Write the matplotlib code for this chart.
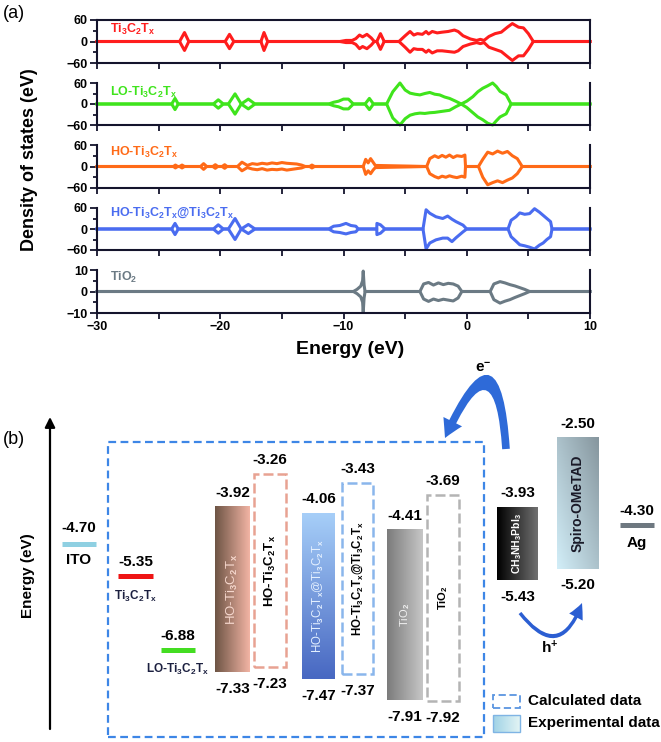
import numpy as np
import matplotlib.pyplot as plt
import matplotlib.colors as mcolors
from matplotlib.patches import Rectangle
from matplotlib.ticker import MultipleLocator

plt.rcParams['font.family'] = ['Liberation Sans', 'DejaVu Sans']
plt.rcParams['font.weight'] = 'bold'
plt.rcParams['mathtext.fontset'] = 'custom'
plt.rcParams['mathtext.rm'] = 'Liberation Sans'
plt.rcParams['mathtext.bf'] = 'Liberation Sans:bold'
plt.rcParams['mathtext.it'] = 'Liberation Sans:italic'

# ---------------- (a) density of states ----------------
# energy (eV), spin-up and spin-down amplitude
e_ti = [-30, -23.3, -22.9, -22.55, -19.6, -19.25, -18.9, -16.7, -16.45, -16.15,
        -10.3, -9.8, -9.3, -9.0, -8.7, -8.45, -8.1, -7.75, -7.5, -7.3, -7.0, -6.7,
        -5.5, -5.0, -4.6, -4.3, -4.0, -3.6, -3.3, -3.1, -2.8, -2.4, -2.0, -1.5, -1.0,
        -0.7, -0.3, 0.3, 0.8, 1.1, 1.4, 1.8, 2.3, 2.8, 3.3, 3.7, 4.2, 4.6, 5.0, 5.4, 10]
up_ti = [0, 0, 25, 0, 0, 20, 0, 0, 25, 0,
         0, 3, 3, 8, 18, 13, 20, 10, 0, 0, 22, 0,
         0, 16, 28, 18, 22, 20, 28, 21, 28, 24, 26, 28, 32,
         28, 16, 7, 3, 6, 3, 14, 22, 26, 40, 50, 40, 38, 22, 0, 0]
dn_ti = [0, 0, 25, 0, 0, 20, 0, 0, 25, 0,
         0, 3, 3, 8, 20, 14, 20, 10, 0, 0, 22, 0,
         0, 16, 30, 20, 22, 22, 30, 24, 32, 26, 26, 28, 30,
         26, 14, 7, 3, 6, 3, 16, 22, 28, 42, 53, 40, 40, 22, 0, 0]

e_lo = [-30, -23.94, -23.67, -23.41, -20.56, -20.16, -19.75, -19.34, -18.8, -18.3,
        -17.72, -17.18, -11.2, -10.8, -10.4, -10.0, -9.6, -9.2, -8.25, -7.9, -7.57,
        -6.5, -6.0, -5.42, -5.0, -4.6, -4.2, -3.8, -3.4, -3.0, -2.6, -2.2, -1.8, -1.4,
        -0.9, -0.45, 0.0, 0.5, 0.9, 1.3, 1.7, 2.1, 2.4, 2.7, 3.2, 3.6, 10]
up_lo = [0, 0, 16, 0, 0, 12, 0, 0, 29, 0,
         14, 0, 0, 5, 8, 14, 14, 0, 0, 16, 0,
         0, 35, 60, 40, 31, 28, 26, 30, 33, 28, 26, 20, 16,
         8, 0, 8, 21, 35, 45, 52, 60, 50, 36, 26, 0, 0]
dn_lo = [0, 0, 16, 0, 0, 12, 0, 0, 29, 0,
         14, 0, 0, 5, 8, 14, 14, 0, 0, 16, 0,
         0, 40, 60, 42, 32, 28, 26, 27, 25, 24, 22, 20, 18,
         8, 0, 10, 25, 37, 45, 55, 60, 48, 37, 28, 0, 0]

e_ho = [-30, -23.8, -23.64, -23.45, -23.3, -23.1, -22.9, -21.6, -21.35, -21.1,
        -20.6, -20.4, -20.2, -19.85, -19.64, -19.45, -18.6, -18.24, -17.8, -17.4,
        -17.0, -16.6, -16.2, -15.8, -15.4, -15.0, -14.6, -14.2, -13.8, -13.4, -13.1,
        -12.75, -12.56, -12.35, -8.4, -8.2, -8.0, -7.8, -7.6, -7.42, -6.0, -4.5,
        -3.25, -3.0, -2.6, -2.3, -2.0, -1.7, -1.4, -1.1, -0.8, -0.4, -0.15, -0.1,
        0.95, 1.3, 1.7, 2.1, 2.5, 2.9, 3.3, 3.7, 4.1, 4.5, 10]
up_ho = [0, 0, 4, 0, 0, 4, 0, 0, 8, 0,
         0, 5, 0, 0, 5, 0, 0, 12, 3, 8,
         6, 9, 7, 10, 8, 11, 9, 8, 7, 4, 0,
         0, 4, 0, 0, 20, 10, 22, 12, 3, 2, 1,
         0, 22, 30, 25, 31, 26, 32, 25, 30, 28, 32, 0,
         0, 20, 40, 35, 43, 37, 42, 30, 22, 0, 0]
dn_ho = [0, 0, 4, 0, 0, 4, 0, 0, 8, 0,
         0, 5, 0, 0, 5, 0, 0, 12, 3, 7,
         9, 6, 10, 8, 9, 7, 10, 8, 6, 4, 0,
         0, 4, 0, 0, 22, 12, 20, 10, 3, 2, 1,
         0, 20, 28, 32, 27, 30, 26, 29, 31, 27, 30, 0,
         0, 30, 51, 45, 40, 45, 38, 32, 20, 0, 0]

e_hoat = [-30, -23.94, -23.67, -23.41, -20.56, -20.16, -19.75, -19.34, -18.8, -18.3,
          -17.72, -17.18, -11.2, -10.8, -10.3, -9.8, -9.4, -9.0, -8.8, -7.3, -7.29,
          -7.0, -6.63, -3.55, -3.3, -3.0, -2.5, -1.95, -1.55, -1.2, -0.87, -0.3, 0.0,
          3.35, 3.6, 4.0, 4.3, 4.7, 5.1, 5.5, 5.9, 6.2, 6.5, 6.8, 6.92, 10]
up_hoat = [0, 0, 16, 0, 0, 12, 0, 0, 30, 0,
           13, 0, 0, 8, 10, 16, 10, 8, 0, 0, 16,
           12, 0, 0, 55, 45, 35, 30, 37, 28, 21, 11, 0,
           0, 25, 35, 46, 42, 44, 58, 48, 39, 30, 21, 0, 0]
dn_hoat = [0, 0, 16, 0, 0, 12, 0, 0, 30, 0,
           13, 0, 0, 8, 10, 14, 10, 8, 0, 0, 16,
           12, 0, 0, 57, 40, 31, 26, 26, 36, 25, 8, 0,
           0, 22, 35, 45, 48, 52, 57, 46, 40, 30, 22, 0, 0]

e_tio2 = [-30, -9.2, -8.9, -8.6, -8.45, -8.4, -8.33, -8.25,
          -3.8, -3.5, -3.1, -2.7, -2.3, -1.9, -1.5, -1.1, -0.7, -0.4,
          1.9, 2.2, 2.7, 3.1, 3.5, 3.9, 4.3, 4.7, 5.1, 10]
up_tio2 = [0, 0, 1, 2.5, 5, 9.5, 3, 0,
           0, 3.5, 4.2, 3.0, 4.0, 3.2, 3.8, 3.5, 2.5, 0,
           0, 3.5, 4.6, 4.0, 3.2, 2.6, 1.8, 1.0, 0, 0]
dn_tio2 = [0, 0, 1, 2.5, 5, 9.7, 3, 0,
           0, 3.5, 4.6, 3.5, 4.2, 3.6, 4.0, 4.4, 3.0, 0,
           0, 3.8, 5.4, 4.5, 3.8, 2.8, 1.9, 1.0, 0, 0]

# ---------------- (b) energy levels (eV) ----------------
level_values = [-4.70, -5.35, -6.88, -4.30]          # ITO, Ti3C2Tx, LO-Ti3C2Tx, Ag
band_top = [-3.92, -3.26, -4.06, -3.43, -4.41, -3.69, -3.93, -2.50]
band_bottom = [-7.33, -7.23, -7.47, -7.37, -7.91, -7.92, -5.43, -5.20]
band_kind = ['exp', 'calc', 'exp', 'calc', 'exp', 'calc', 'exp', 'exp']

TI = r'Ti$_{\mathbf{3}}$C$_{\mathbf{2}}$T$_{\mathbf{x}}$'
TI_R = r'Ti$_{\mathrm{3}}$C$_{\mathrm{2}}$T$_{\mathrm{x}}$'

W, H = 661, 742
fig = plt.figure(figsize=(W / 100, H / 100), dpi=100)


def box(x0, y0, x1, y1):
    return [x0 / W, 1 - y1 / H, (x1 - x0) / W, (y1 - y0) / H]


spine_c = '#14142c'
dos = [
    (e_ti, up_ti, dn_ti, '#ff1d1d', TI, 60, (20, 63), 0.78),
    (e_lo, up_lo, dn_lo, '#3fe41c', 'LO-' + TI, 60, (83, 125), 0.78),
    (e_ho, up_ho, dn_ho, '#ff6a17', 'HO-' + TI, 60, (145, 188), 0.82),
    (e_hoat, up_hoat, dn_hoat, '#4a6cf0', 'HO-' + TI + '@' + TI, 60, (208, 250), 0.88),
    (e_tio2, up_tio2, dn_tio2, '#6b7a84', r'TiO$_{\mathbf{2}}$', 10, (270, 313), 0.82),
]
for i, (e, up, dn, c, lab, lim, (yt, yb), ly) in enumerate(dos):
    ax = fig.add_axes(box(97, yt, 590, yb))
    ax.plot(e, up, color=c, lw=2.2, clip_on=False, solid_joinstyle='round')
    ax.plot(e, -np.array(dn), color=c, lw=2.2, clip_on=False, solid_joinstyle='round')
    ax.set_xlim(-30, 10)
    ax.set_ylim(-lim, lim)
    ax.xaxis.set_major_locator(MultipleLocator(10))
    ax.xaxis.set_minor_locator(MultipleLocator(5))
    ax.yaxis.set_major_locator(MultipleLocator(lim))
    ax.yaxis.set_minor_locator(MultipleLocator(lim / 2))
    ax.tick_params(which='both', direction='out', width=1.3, color=spine_c,
                   labelsize=9, pad=1.5)
    ax.tick_params(axis='x', which='both', length=4)
    ax.tick_params(axis='y', which='major', length=5)
    ax.tick_params(axis='y', which='minor', length=3)
    for s in ax.spines.values():
        s.set_linewidth(1.5)
        s.set_color(spine_c)
    if i > 0:
        ax.spines['top'].set_visible(False)
    if i < 4:
        ax.tick_params(labelbottom=False)
    ax.text(0.026, ly, lab, transform=ax.transAxes, color=c, fontsize=9,
            va='center', ha='left')

fig.text(30 / W, 1 - 160 / H, 'Density of states (eV)', rotation=90,
         ha='center', va='center', fontsize=13)
fig.text(350 / W, 1 - 350 / H, 'Energy (eV)', ha='center', va='center', fontsize=14)
fig.text(14 / W, 1 - 14 / H, '(a)', ha='center', va='center', fontsize=13,
         fontweight='normal')

# ---------------- (b) ----------------
PX_PER_EV = 48.6
E_REF, Y_REF = -5.111, 564.4


def ey(ypix):
    # picture row -> energy, for placing annotations
    return E_REF - (ypix - Y_REF) / PX_PER_EV


bx = fig.add_axes(box(0, 360, W, H))
bx.axis('off')


def gradient_bar(x0, x1, y0, y1, c0, c1, mode):
    n = 60
    t = np.linspace(0, 1, n)
    a = np.array(mcolors.to_rgb(c0))
    b = np.array(mcolors.to_rgb(c1))
    if mode == 'h':
        w = np.tile(t, (n, 1))
    elif mode == 'v':
        w = np.tile(t[:, None], (1, n))
    else:
        w = (np.tile(t, (n, 1)) + np.tile(1 - t[:, None], (1, n))) / 2
    img = a + (b - a) * w[..., None]
    bx.imshow(img, extent=(x0, x1, y0, y1), origin='upper', aspect='auto',
              interpolation='bilinear', zorder=2)


# single levels
level_x = [(62, 96), (118, 153), (161, 195), (620, 654)]
level_c = ['#8fd0e2', '#ee1414', '#44dd22', '#6e7880']
level_lab = ['ITO', TI, 'LO-' + TI, 'Ag']
level_lab_size = [11, 8.5, 8.5, 11]
level_lab_off = [-6, -9, -8, -8]
level_val_off = [7, 5, 5, 5]
for v, (x0, x1), c, lab, fs, lo, vo in zip(level_values, level_x, level_c, level_lab,
                                            level_lab_size, level_lab_off, level_val_off):
    bx.hlines(v, x0, x1, color=c, lw=3.6, zorder=3)
    xc = (x0 + x1) / 2
    bx.annotate(f'{v:.2f}', (xc, v), xytext=(0, vo), textcoords='offset points',
                ha='center', va='bottom', fontsize=11)
    bx.annotate(lab, (xc, v), xytext=(0, lo), textcoords='offset points',
                ha='center', va='top', fontsize=fs,
                color='black' if fs > 10 else '#1c2040')

# bands
band_x = [(215, 250), (254, 286), (302, 335), (342, 373), (387, 423), (427, 459),
          (497, 538), (557, 599)]
band_style = [
    ('#6e5545', '#f2b4a4', 'h'), '#e8a292',
    ('#a6cef8', '#4868c2', 'v'), '#8ab6ec',
    ('#7c7c7c', '#c6c6c6', 'h'), '#b4b4b4',
    ('#000000', '#707070', 'h'), ('#d2eef8', '#86969e', 'd'),
]
band_text = [
    ('HO-' + TI_R, '#f6d8ce', 9.5, 'normal'), ('HO-' + TI, 'black', 9.5, 'bold'),
    ('HO-' + TI_R + '@' + TI_R, '#e4f0ff', 8.3, 'normal'),
    ('HO-' + TI + '@' + TI, 'black', 8.3, 'bold'),
    (r'TiO$_{\mathrm{2}}$', '#f0f0f0', 8, 'normal'), (r'TiO$_{\mathbf{2}}$', 'black', 8, 'bold'),
    (r'CH$_{\mathbf{3}}$NH$_{\mathbf{3}}$PbI$_{\mathbf{3}}$', 'white', 7.5, 'bold'),
    ('Spiro-OMeTAD', '#1a1a28', 10, 'bold'),
]
for top, bot, kind, (x0, x1), st, (txt, tc, tfs, tw) in zip(
        band_top, band_bottom, band_kind, band_x, band_style, band_text):
    if kind == 'exp':
        gradient_bar(x0, x1, bot, top, *st)
    else:
        bx.add_patch(Rectangle((x0, bot), x1 - x0, top - bot, fill=False, ec=st,
                               lw=1.8, ls=(0, (4, 1.6)), zorder=3))
    xc = (x0 + x1) / 2
    bx.annotate(f'{top:.2f}', (xc, top), xytext=(0, 5), textcoords='offset points',
                ha='center', va='bottom', fontsize=11)
    bx.annotate(f'{bot:.2f}', (xc, bot), xytext=(0, -7), textcoords='offset points',
                ha='center', va='top', fontsize=11)
    bx.text(xc, (top + bot) / 2, txt, rotation=90, ha='center', va='center',
            color=tc, fontsize=tfs, fontweight=tw, zorder=4)

# calculated-data frame
bx.add_patch(Rectangle((108, ey(737)), 376, ey(442) - ey(737), fill=False,
                       ec='#3d86e6', lw=1.6, ls=(0, (3.5, 2)), zorder=1))

# energy axis arrow
bx.annotate('', xy=(50, ey(417)), xytext=(50, ey(729)),
            arrowprops=dict(arrowstyle='-|>', lw=1.6, color='black',
                            mutation_scale=15, shrinkA=0, shrinkB=0))
bx.text(28, ey(576), 'Energy (eV)', rotation=90, ha='center', va='center', fontsize=11)
bx.text(14, ey(440), '(b)', ha='center', va='center', fontsize=13, fontweight='normal')

# charge transfer arrows
bx.annotate('', xy=(445, ey(438)), xytext=(506, ey(449)),
            arrowprops=dict(arrowstyle='simple,head_width=1.5,head_length=1.3,tail_width=0.55',
                            connectionstyle='arc3,rad=2', fc='#2e6ad8', ec='none',
                            mutation_scale=10, shrinkA=0, shrinkB=0))
bx.text(483, ey(368), r'e$^{\mathbf{-}}$', ha='center', va='center', fontsize=11)
bx.annotate('', xy=(582, ey(603)), xytext=(520, ey(613)),
            arrowprops=dict(arrowstyle='simple,head_width=1.1,head_length=1.1,tail_width=0.25',
                            connectionstyle='arc3,rad=0.9', fc='#2b5ed2', ec='none',
                            mutation_scale=10, shrinkA=0, shrinkB=0))
bx.text(550, ey(648), r'h$^{\mathbf{+}}$', ha='center', va='center', fontsize=11)

# legend
bx.add_patch(Rectangle((493, ey(708)), 27, ey(695) - ey(708), fill=False,
                       ec='#5b95e0', lw=1.3, ls=(0, (4, 2)), zorder=3))
gradient_bar(493, 520, ey(732), ey(715), '#9fd2e6', '#e2f4f4', 'h')
bx.add_patch(Rectangle((493, ey(732)), 27, ey(715) - ey(732), fill=False,
                       ec='#7fb4e4', lw=1.0, zorder=3))
bx.text(528, ey(701), 'Calculated data', ha='left', va='center', fontsize=11)
bx.text(528, ey(723), 'Experimental data', ha='left', va='center', fontsize=11)

bx.set_xlim(0, W)
bx.set_ylim(ey(H), ey(360))
bx.set_aspect('auto')

fig.savefig('out.png', dpi=100)
